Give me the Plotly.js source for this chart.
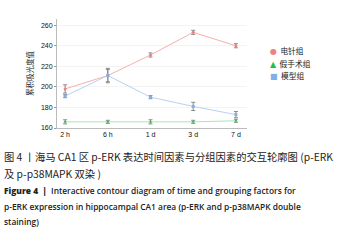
<!DOCTYPE html>
<html><head><meta charset="utf-8">
<script src="https://cdn.plot.ly/plotly-3.0.1.min.js"></script>
<style>
html,body{margin:0;padding:0;background:#fff;width:347px;height:242px;overflow:hidden;}
#plot{position:absolute;left:0;top:0;width:347px;height:140px;}
.cap{position:absolute;left:4px;white-space:nowrap;color:#222;}
.zh{font-family:"Noto Sans CJK SC","Noto Sans",sans-serif;font-size:10.3px;}
.en{font-family:"Open Sans","Noto Sans",sans-serif;font-size:8.4px;font-weight:600;}
</style></head>
<body>
<div id="plot"></div>
<div class="cap zh" style="top:149px">图 4 丨海马 CA1 区 p-ERK 表达时间因素与分组因素的交互轮廓图 (p-ERK</div>
<div class="cap zh" style="top:166px">及 p-p38MAPK 双染 )</div>
<div class="cap en" style="top:184.5px"><b>Figure 4 &nbsp;|&nbsp;</b> Interactive contour diagram of time and grouping factors for</div>
<div class="cap en" style="top:200.5px">p-ERK expression in hippocampal CA1 area (p-ERK and p-p38MAPK double</div>
<div class="cap en" style="top:216px">staining)</div>
<script>
const categories = ["2 h", "6 h", "1 d", "3 d", "7 d"];
const groupNames = ["电针组", "假手术组", "模型组"];
const eaValues = [198, 211, 231, 253, 240];
const eaErrors = [4, 6, 2, 2, 2];
const shamValues = [166, 166, 166, 166, 167];
const shamErrors = [2, 1.5, 2, 1.5, 1.5];
const modelValues = [191, 211, 190, 181, 173];
const modelErrors = [1.5, 7, 1.5, 4, 3];
const yTicks = [160, 180, 200, 220, 240, 260];

const colors = ["#F08080", "#22C045", "#7FAEEA"];
const lineColors = ["#F6B0AC", "#A8E6B8", "#B7D2F2"];
const symbols = ["circle", "triangle-up", "square"];
const legendGlyphs = ["●", "▲", "■"];
const series = [eaValues, shamValues, modelValues];
const errs = [eaErrors, shamErrors, modelErrors];

const traces = [];
series.forEach((vals, i) => {
  traces.push({
    x: categories, y: vals, type: "scatter", mode: "lines+markers", name: groupNames[i],
    line: {color: lineColors[i], width: 1},
    marker: {color: colors[i], size: 3, symbol: symbols[i]},
    error_y: {type: "data", array: errs[i], visible: true, color: "#8a8a8a", thickness: 1, width: 2},
    showlegend: false, hoverinfo: "skip", cliponaxis: false
  });
});

const annotations = groupNames.map((name, i) => ({
  xref: "paper", yref: "paper", x: 1.11, y: 0.708 - i * 0.114,
  xanchor: "left", yanchor: "middle", showarrow: false,
  text: '<span style="color:' + colors[i] + ';font-family:DejaVu Sans;font-size:8px">' + legendGlyphs[i] + '</span>  ' + name,
  font: {family: "Noto Sans CJK SC", size: 7.7, color: "#222"}
}));

Plotly.newPlot("plot", traces, {
  width: 347, height: 140,
  margin: {l: 57, r: 100, t: 19, b: 11.5},
  paper_bgcolor: "#fff", plot_bgcolor: "#fff",
  font: {family: "Liberation Sans, Arial, sans-serif", size: 7, color: "#222"},
  xaxis: {
    type: "category", range: [-0.19, 4.26], showgrid: false, zeroline: false,
    showline: true, linecolor: "#bbb", linewidth: 1, ticks: "", tickfont: {size: 7, color: "#111"},
    fixedrange: true
  },
  yaxis: {
    range: [160, 266], tickvals: yTicks, showgrid: true, gridcolor: "#f3f3f3", zeroline: false,
    showline: true, linecolor: "#bbb", linewidth: 1, ticks: "outside", ticklen: 2, tickcolor: "#999",
    tickfont: {size: 7, color: "#111"},
    title: {text: "累积吸光度值", font: {family: "Noto Sans CJK SC", size: 7.5, color: "#222"}, standoff: 6},
    fixedrange: true
  },
  annotations: annotations,
  showlegend: false
}, {staticPlot: true, displayModeBar: false});
</script>
</body></html>
